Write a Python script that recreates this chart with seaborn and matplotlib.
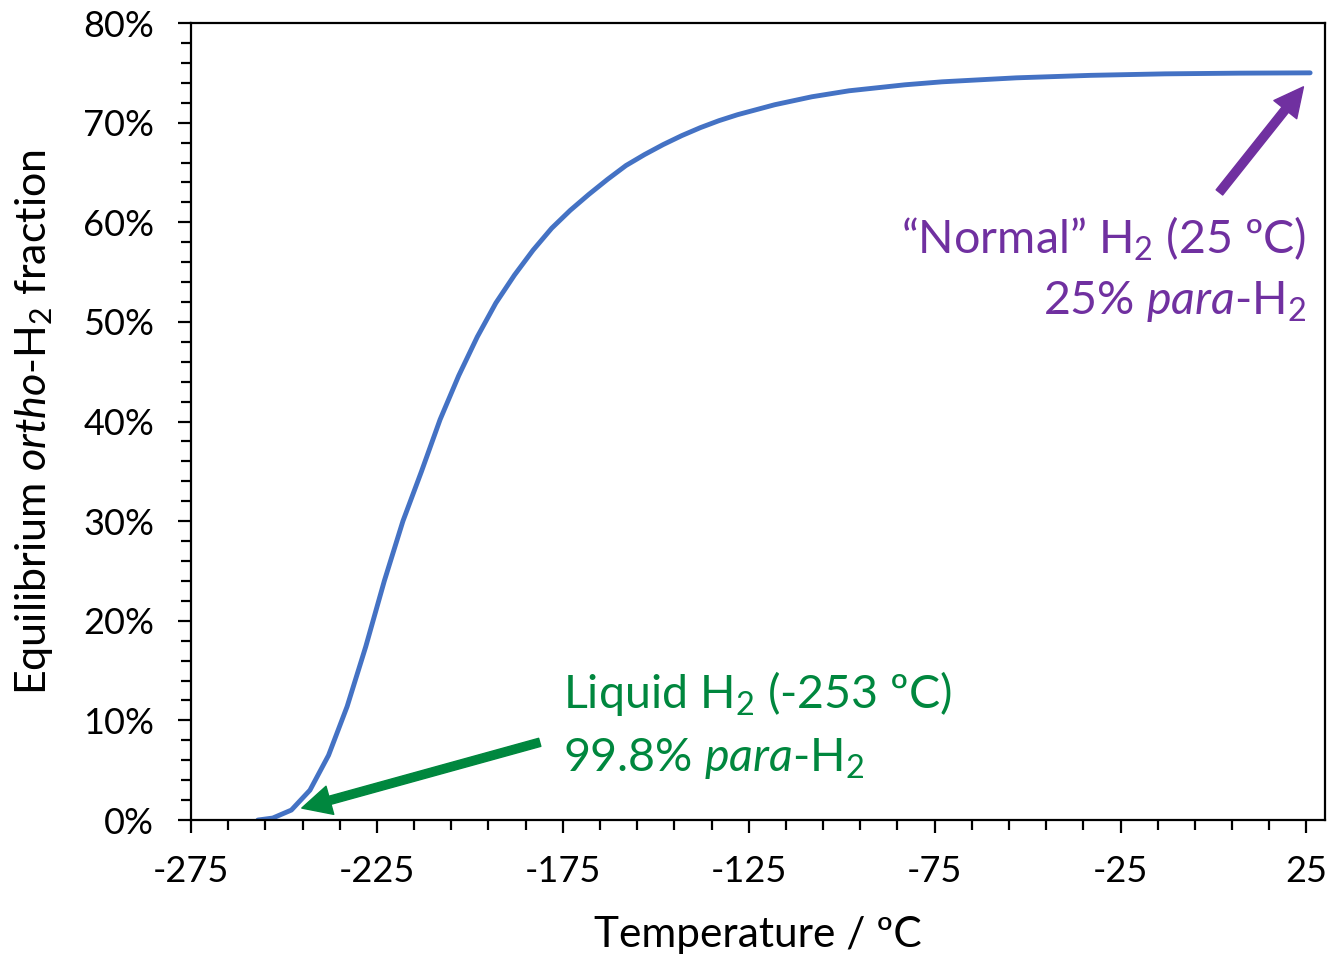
import matplotlib
matplotlib.use("Agg")
import matplotlib.pyplot as plt
import seaborn as sns
from matplotlib.ticker import FixedLocator, MultipleLocator, PercentFormatter

# equilibrium ortho-H2 fraction vs temperature
temps = [-257, -253, -248, -243, -238, -233, -228, -223, -218, -213, -208, -203,
         -198, -193, -188, -183, -178, -173, -168, -163, -158, -153, -148, -143,
         -138, -133, -128, -123, -118, -113, -108, -103, -98, -93,
         -83, -73, -53, -33, -13, 7, 26]
ortho = [0.000, 0.002, 0.010, 0.030, 0.065, 0.114, 0.174, 0.240, 0.300, 0.350,
         0.402, 0.446, 0.485, 0.519, 0.547, 0.572, 0.594, 0.612, 0.628, 0.643,
         0.657, 0.668, 0.678, 0.687, 0.695, 0.702, 0.708, 0.713, 0.718, 0.722,
         0.726, 0.729, 0.732, 0.734, 0.738, 0.741, 0.745, 0.7475, 0.749, 0.7497, 0.750]
x_ticks = [-275, -225, -175, -125, -75, -25, 25]

line_color = "#4472C4"
green = "#00873E"
purple = "#7030A0"

sns.set_style("white")
plt.rcParams["font.family"] = ["Lato", "DejaVu Sans"]
plt.rcParams["mathtext.fontset"] = "custom"
plt.rcParams["mathtext.rm"] = "Lato"
plt.rcParams["mathtext.it"] = "Lato:italic"
plt.rcParams["axes.unicode_minus"] = False
plt.rcParams["text.color"] = "black"
plt.rcParams["axes.labelcolor"] = "black"
plt.rcParams["xtick.color"] = "black"
plt.rcParams["ytick.color"] = "black"

fig = plt.figure(figsize=(13.29, 9.60), dpi=100)
ax = fig.add_axes([0.1437, 0.1458, 0.8533, 0.8302])

sns.lineplot(x=temps, y=ortho, ax=ax, color=line_color, linewidth=3.5,
             solid_capstyle="round", sort=False)

ax.set_xlim(-275, 30)
ax.set_ylim(0, 0.8)
ax.xaxis.set_major_locator(FixedLocator(x_ticks))
ax.xaxis.set_minor_locator(MultipleLocator(10, offset=5))
ax.yaxis.set_major_locator(MultipleLocator(0.1))
ax.yaxis.set_minor_locator(MultipleLocator(0.02))
ax.yaxis.set_major_formatter(PercentFormatter(1, decimals=0))

for s in ax.spines.values():
    s.set_color("black")
    s.set_linewidth(1.6)
ax.tick_params(which="both", direction="out", color="black", width=1.6,
               bottom=True, left=True, top=False, right=False)
ax.tick_params(which="major", length=9.5, labelsize=26)
ax.tick_params(axis="y", which="major", pad=17)
ax.tick_params(axis="x", which="major", pad=16)
ax.tick_params(which="minor", length=7)

ax.set_xlabel("Temperature / ºC", fontsize=30.5, labelpad=20)
ax.set_ylabel(r"Equilibrium $\mathit{ortho}$-H$_2$ fraction", fontsize=31, labelpad=20)

ax.annotate("", xy=(-245.2, 0.012), xytext=(-181.2, 0.078),
            arrowprops=dict(facecolor=green, edgecolor=green, width=6,
                            headwidth=21, headlength=21, shrink=0))
ax.annotate("", xy=(24.2, 0.736), xytext=(1.6, 0.630),
            arrowprops=dict(facecolor=purple, edgecolor=purple, width=6,
                            headwidth=21, headlength=21, shrink=0))

ax.text(-175, 0.127, "Liquid H$_2$ (-253 ºC)", color=green, fontsize=33.5,
        ha="left", va="center")
ax.text(-175, 0.062, r"99.8% $\mathit{para}$-H$_2$", color=green, fontsize=33.5,
        ha="left", va="center")
ax.text(25, 0.583, "“Normal” H$_2$ (25 ºC)", color=purple, fontsize=33.5,
        ha="right", va="center")
ax.text(25, 0.520, r"25% $\mathit{para}$-H$_2$", color=purple, fontsize=33.5,
        ha="right", va="center")

fig.savefig("out.png", dpi=100)
